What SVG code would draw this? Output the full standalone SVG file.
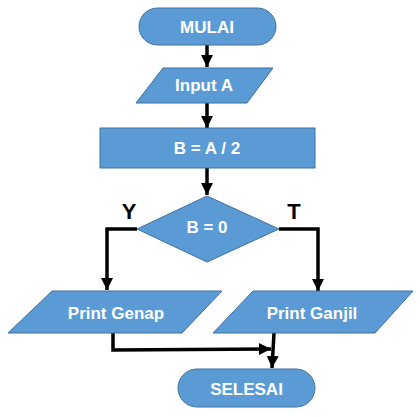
<svg xmlns="http://www.w3.org/2000/svg" width="420" height="417" viewBox="0 0 420 417">
<style>
.s{fill:#5B9BD5;stroke:#41719C;stroke-width:1}
.t{fill:#fff;font-family:"Liberation Sans",Arial,sans-serif;font-weight:bold;font-size:17px;text-anchor:middle;dominant-baseline:central}
.c{fill:none;stroke:#000;stroke-width:3.5}
.l{fill:#000;font-family:"Liberation Sans",Arial,sans-serif;font-weight:bold;font-size:22px;text-anchor:middle}
</style>
<defs>
<marker id="a" markerUnits="userSpaceOnUse" markerWidth="14" markerHeight="14" refX="12" refY="7" orient="auto">
<path d="M0,1 L12,7 L0,13 Z" fill="#000"/>
</marker>
</defs>
<rect width="420" height="417" fill="#fff"/>
<g id="connectors">
<line class="c" x1="207" y1="45" x2="207" y2="67" marker-end="url(#a)"/>
<line class="c" x1="207" y1="103" x2="207" y2="128" marker-end="url(#a)"/>
<line class="c" x1="207" y1="168" x2="207" y2="195" marker-end="url(#a)"/>
<polyline class="c" points="137,229 107,229 107,290" marker-end="url(#a)"/>
<polyline class="c" points="279,229 318,229 318,291" marker-end="url(#a)"/>
<polyline class="c" points="113,333 113,350 271,349" marker-end="url(#a)"/>
<line class="c" x1="274" y1="333" x2="272" y2="368" marker-end="url(#a)"/>
<text class="l" x="129" y="219">Y</text>
<text class="l" x="294" y="219">T</text>
</g>
<g id="mulai">
<rect class="s" x="139" y="8" width="137" height="37" rx="18.5"/>
<text class="t" x="207" y="27">MULAI</text>
</g>
<g id="input">
<polygon class="s" points="163,68 273,68 247,103 136,103"/>
<text class="t" x="204" y="85.5">Input A</text>
</g>
<g id="proses">
<rect class="s" x="100" y="128" width="215" height="40"/>
<text class="t" x="207" y="148">B = A / 2</text>
</g>
<g id="decision">
<polygon class="s" points="207,196 279,229 207,262 137,229"/>
<text class="t" x="207" y="227">B = 0</text>
</g>
<g id="genap">
<polygon class="s" points="52,291 222,291 182,333 8,333"/>
<text class="t" x="116" y="313">Print Genap</text>
</g>
<g id="ganjil">
<polygon class="s" points="253,291 413,291 375,333 213,333"/>
<text class="t" x="312" y="313">Print Ganjil</text>
</g>
<g id="selesai">
<rect class="s" x="178" y="369" width="137" height="38" rx="19"/>
<text class="t" x="246.5" y="389">SELESAI</text>
</g>
</svg>
